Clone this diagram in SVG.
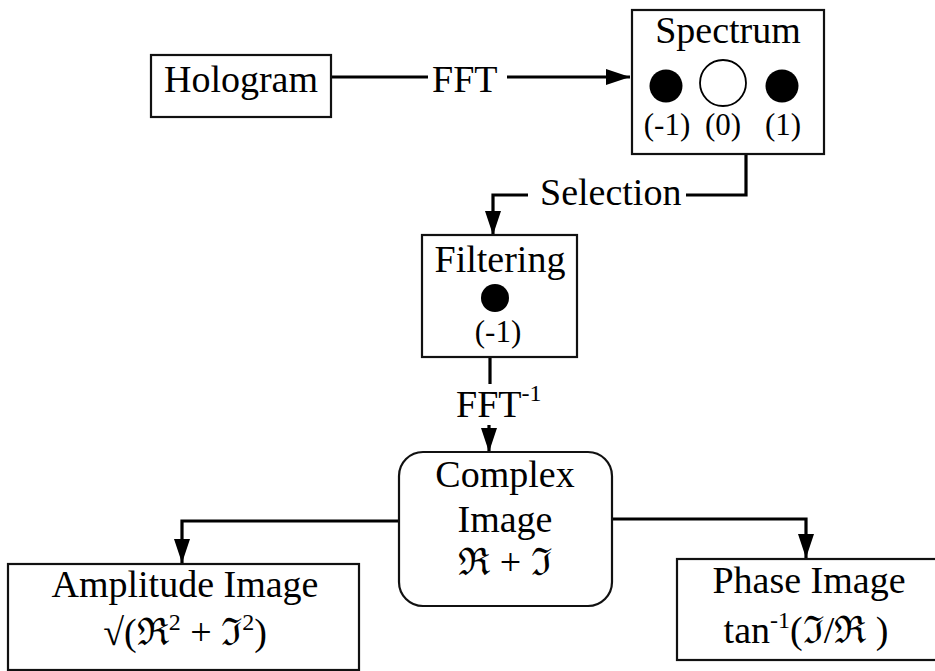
<svg xmlns="http://www.w3.org/2000/svg" width="935" height="671" viewBox="0 0 935 671">
  <defs>
    <style>
      .box { fill: #fff; stroke: #111; stroke-width: 2.2; }
      .wire { fill: none; stroke: #000; stroke-width: 3.2; }
      .t { font-family: "Liberation Serif", "DejaVu Serif", serif; font-size: 38px; fill: #000; }
      .lbl { font-family: "Liberation Serif", "DejaVu Serif", serif; font-size: 31px; fill: #000; }
      .sup { font-size: 24px; }
      .m { text-anchor: middle; }
    </style>
    <marker id="arrow" viewBox="0 0 24 16" refX="24" refY="8" markerWidth="24" markerHeight="16" markerUnits="userSpaceOnUse" orient="auto">
      <path d="M0,0 L24,8 L0,16 Z" fill="#000"/>
    </marker>
  </defs>

  <rect width="935" height="671" fill="#fff"/>

  <!-- connectors -->
  <g id="connectors">
    <line class="wire" x1="331" y1="77" x2="428" y2="77"/>
    <line class="wire" x1="507" y1="77" x2="630" y2="77" marker-end="url(#arrow)"/>
    <polyline class="wire" points="746,154 746,195 686,195"/>
    <polyline class="wire" points="528,195 493,195 493,235" marker-end="url(#arrow)"/>
    <line class="wire" x1="490" y1="357" x2="490" y2="384"/>
    <line class="wire" x1="489" y1="425" x2="489" y2="452" marker-end="url(#arrow)"/>
    <polyline class="wire" points="399,521 182,521 182,563" marker-end="url(#arrow)"/>
    <polyline class="wire" points="612,519 806,519 806,558" marker-end="url(#arrow)"/>
    <text class="t" x="432" y="92">FFT</text>
    <text class="t" x="540" y="205">Selection</text>
    <text class="t" x="456" y="417">FFT<tspan class="sup" dy="-16">-1</tspan></text>
  </g>

  <g id="hologram">
    <rect class="box" x="151" y="55" width="180" height="62"/>
    <text class="t m" x="241" y="92">Hologram</text>
  </g>

  <g id="spectrum">
    <rect class="box" x="632" y="10" width="192" height="144"/>
    <text class="t m" x="728" y="43">Spectrum</text>
    <circle cx="666" cy="86" r="16.5" fill="#000"/>
    <circle cx="723" cy="83" r="23" fill="#fff" stroke="#000" stroke-width="1.8"/>
    <circle cx="782" cy="86" r="16.5" fill="#000"/>
    <text class="lbl m" x="667" y="135">(-1)</text>
    <text class="lbl m" x="723" y="135">(0)</text>
    <text class="lbl m" x="783" y="135">(1)</text>
  </g>

  <g id="filtering">
    <rect class="box" x="422" y="235" width="155" height="122"/>
    <text class="t m" x="500" y="272">Filtering</text>
    <circle cx="495" cy="298" r="14" fill="#000"/>
    <text class="lbl m" x="498" y="342">(-1)</text>
  </g>

  <g id="complex-image">
    <rect class="box" x="399" y="452" width="213" height="154" rx="24" ry="24"/>
    <text class="t m" x="505" y="487">Complex</text>
    <text class="t m" x="505" y="532">Image</text>
    <text class="t m" x="505" y="575">ℜ + ℑ</text>
  </g>

  <g id="amplitude-image">
    <rect class="box" x="8" y="564" width="351" height="106"/>
    <text class="t m" x="185" y="597">Amplitude Image</text>
    <text class="t m" x="185" y="645">√(ℜ<tspan class="sup" dy="-15">2</tspan><tspan dy="15"> + ℑ</tspan><tspan class="sup" dy="-15">2</tspan><tspan dy="15">)</tspan></text>
  </g>

  <g id="phase-image">
    <rect class="box" x="677" y="559" width="270" height="101"/>
    <text class="t m" x="809" y="593">Phase Image</text>
    <text class="t m" x="806" y="643">tan<tspan class="sup" dy="-15">-1</tspan><tspan dy="15">(ℑ/ℜ )</tspan></text>
  </g>
</svg>
